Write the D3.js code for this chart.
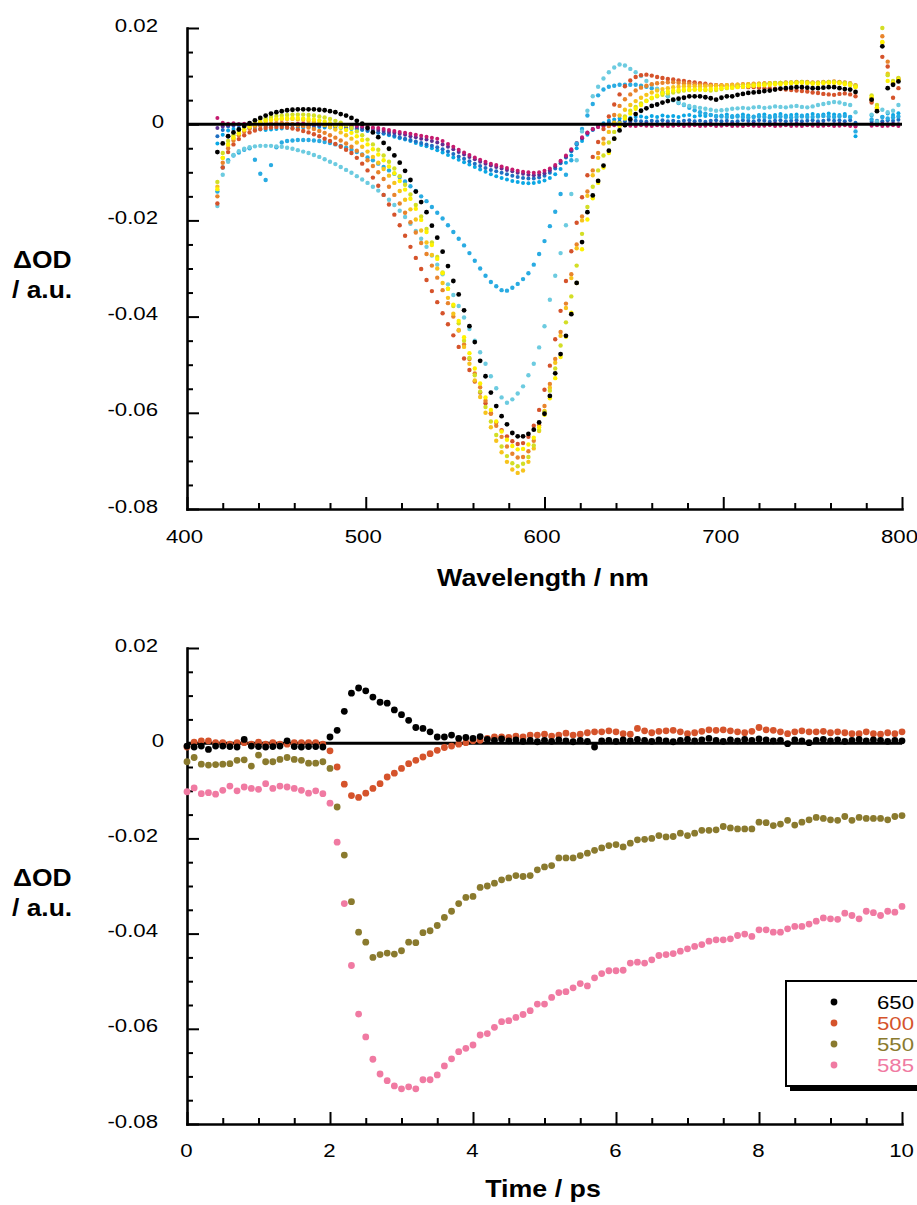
<!DOCTYPE html>
<html><head><meta charset="utf-8">
<script src="https://cdn.jsdelivr.net/npm/d3@7"></script>
<style>body{margin:0;background:#fff}svg{display:block;background:#fff}</style>
</head><body><svg id="chart" width="917" height="1205"></svg>
<script>
// ---------- Top panel: transient spectra (values in mOD, i.e. ΔOD x 1000) ----------
const wavelengths = [
417,420,423,426,429,432,435,438,441,444,
447,450,453,456,459,462,465,468,471,474,
477,480,483,486,489,492,495,498,501,504,
507,510,513,516,519,522,525,528,531,534,
537,540,543,546,549,552,555,558,561,564,
567,570,573,576,579,582,585,588,591,594,
597,600,603,606,609,612,615,618,621,624,
627,630,633,636,639,642,645,648,651,654,
657,660,663,666,669,672,675,678,681,684,
687,690,693,696,699,702,705,708,711,714,
717,720,723,726,729,732,735,738,741,744,
747,750,753,756,759,762,765,768,771,774,
783,786,789,792,795,798];

const specE4 = [
-4.0,-2.2,-1.3,-1.0,-0.9,-0.8,-0.9,-1.0,-1.1,-1.2,
-1.1,-1.0,-0.9,-0.8,-0.8,-0.7,-0.7,-0.6,-0.7,-0.6,
-0.7,-0.7,-0.8,-0.8,-0.9,-1.0,-1.1,-1.2,-1.4,-1.6,
-1.8,-2.0,-2.3,-2.6,-2.9,-3.2,-3.5,-3.9,-4.3,-4.6,
-5.0,-5.4,-5.9,-6.4,-6.9,-7.4,-7.9,-8.4,-8.9,-9.4,
-9.9,-10.4,-10.8,-11.2,-11.5,-11.8,-12.0,-12.2,-12.3,-12.2,
-12.0,-11.7,-11.2,-10.4,-9.3,-8.0,-6.5,-5.0,-3.5,-2.2,
-1.2,-0.4,0.2,0.7,1.0,1.2,1.4,1.3,1.5,1.6,
1.4,1.7,1.5,1.8,1.6,1.7,1.5,1.8,1.9,1.6,
1.8,1.7,1.9,1.6,1.8,2.0,1.7,1.8,2.0,1.8,
1.6,1.9,2.0,1.7,1.9,2.1,1.8,1.9,2.0,1.8,
1.9,2.1,1.9,2.0,2.2,2.0,1.9,2.1,1.5,-2.5,
1.8,0.5,1.5,2.2,1.9,2.3];

const specE3 = [
-2.5,-1.2,-0.5,-0.3,-0.2,-0.4,-0.3,-0.2,-0.3,-0.4,
-0.2,-0.3,-0.4,-0.3,-0.2,-0.3,-0.4,-0.3,-0.3,-0.4,
-0.4,-0.5,-0.5,-0.6,-0.7,-0.8,-0.9,-1.1,-1.3,-1.5,
-1.7,-1.9,-2.1,-2.4,-2.7,-3.0,-3.3,-3.6,-3.9,-4.2,
-4.5,-4.8,-5.2,-5.7,-6.2,-6.7,-7.2,-7.7,-8.2,-8.7,
-9.1,-9.5,-9.8,-10.1,-10.4,-10.7,-11.0,-11.2,-11.3,-11.3,
-11.1,-10.7,-10.1,-9.2,-8.1,-6.9,-5.6,-4.2,-2.9,-1.8,
-1.0,-0.4,0.0,0.3,0.4,0.5,0.6,0.5,0.7,0.6,
0.5,0.7,0.6,0.8,0.6,0.7,0.5,0.7,0.8,0.6,
0.7,0.5,0.7,0.8,0.6,0.7,0.5,0.6,0.8,0.7,
0.6,0.8,0.7,0.5,0.7,0.8,0.6,0.7,0.8,0.6,
0.7,0.8,0.6,0.7,0.9,0.7,0.8,0.6,0.8,0.3,
0.5,0.7,0.6,0.8,0.7,0.9];

const specE2 = [
-0.8,-0.5,-0.2,-0.1,0.0,-0.2,-0.1,0.0,-0.1,-0.2,
-0.1,0.0,-0.1,-0.2,-0.1,0.0,-0.1,-0.2,-0.1,-0.1,
-0.2,-0.2,-0.3,-0.3,-0.4,-0.5,-0.6,-0.7,-0.9,-1.0,
-1.2,-1.4,-1.6,-1.8,-2.0,-2.2,-2.5,-2.7,-3.0,-3.2,
-3.5,-3.8,-4.2,-4.7,-5.2,-5.8,-6.3,-6.8,-7.3,-7.8,
-8.2,-8.6,-8.9,-9.2,-9.5,-9.8,-10.1,-10.3,-10.5,-10.6,
-10.5,-10.2,-9.6,-8.8,-7.8,-6.7,-5.4,-4.1,-2.9,-1.9,
-1.1,-0.6,-0.3,-0.1,0.0,-0.1,0.0,0.1,-0.1,0.0,
0.1,0.0,-0.1,0.0,0.1,0.0,-0.1,0.0,0.1,0.0,
-0.1,0.0,0.1,0.0,-0.1,0.0,0.1,0.0,-0.1,0.0,
0.1,0.0,-0.1,0.0,0.1,0.0,-0.1,0.0,0.1,0.0,
-0.1,0.0,0.1,0.0,-0.1,0.0,0.1,0.0,-0.1,-0.3,
0.0,-0.1,0.1,0.0,0.1,0.0];

const specE1 = [
1.3,0.3,0.1,0.2,0.0,0.1,0.2,0.0,0.1,0.2,
0.0,0.1,0.2,0.1,0.0,0.1,0.2,0.0,0.1,0.0,
0.1,0.0,-0.1,0.0,-0.2,-0.2,-0.3,-0.4,-0.5,-0.7,
-0.8,-1.0,-1.2,-1.4,-1.6,-1.8,-2.0,-2.2,-2.4,-2.6,
-2.8,-3.0,-3.5,-4.1,-4.7,-5.3,-5.9,-6.4,-6.9,-7.4,
-7.8,-8.2,-8.5,-8.8,-9.1,-9.4,-9.7,-9.9,-10.0,-10.1,
-10.0,-9.7,-9.2,-8.5,-7.6,-6.5,-5.2,-3.9,-2.7,-1.7,
-1.0,-0.6,-0.4,-0.3,-0.2,-0.3,-0.2,-0.3,-0.4,-0.2,
-0.3,-0.4,-0.2,-0.3,-0.4,-0.3,-0.2,-0.4,-0.3,-0.2,
-0.4,-0.3,-0.2,-0.4,-0.3,-0.2,-0.4,-0.3,-0.4,-0.2,
-0.3,-0.4,-0.3,-0.2,-0.4,-0.3,-0.2,-0.4,-0.3,-0.4,
-0.2,-0.3,-0.4,-0.3,-0.2,-0.4,-0.3,-0.2,-0.4,-0.5,
-0.3,-0.2,-0.4,-0.3,-0.2,-0.4];

const specM1 = [
-14.0,-9.0,-7.5,-6.5,-5.9,-5.3,-5.0,-7.4,-10.3,-11.6,
-8.5,-4.8,-3.8,-3.5,-3.4,-3.3,-3.3,-3.3,-3.4,-3.5,
-3.7,-3.9,-4.2,-4.5,-4.9,-5.3,-5.8,-6.3,-6.9,-7.5,
-8.2,-8.9,-9.6,-10.3,-11.0,-11.9,-12.9,-13.9,-15.0,-16.0,
-17.2,-18.4,-19.6,-21.0,-22.4,-23.8,-25.2,-26.8,-28.4,-30.0,
-31.5,-32.8,-33.7,-34.5,-34.6,-34.0,-33.2,-32.2,-31.0,-29.2,
-27.0,-24.3,-21.2,-18.2,-14.5,-10.5,-7.5,-4.0,-1.0,1.8,
4.2,6.0,7.2,7.8,8.0,8.2,8.2,8.2,8.2,8.0,
7.8,7.5,7.2,6.6,5.8,5.0,4.4,4.0,3.4,2.9,
2.5,2.2,1.9,1.7,1.6,1.5,1.5,1.6,1.5,1.4,
1.5,1.6,1.5,1.4,1.5,1.6,1.5,1.4,1.5,1.6,
1.5,1.5,1.6,1.7,1.6,1.5,1.6,1.7,1.5,-1.5,
1.0,0.5,1.5,1.2,1.4,1.6];

const specL1 = [
-17.0,-10.5,-7.8,-6.4,-5.6,-5.1,-4.8,-4.6,-4.5,-4.5,
-4.5,-4.6,-4.7,-4.9,-5.1,-5.4,-5.7,-6.0,-6.4,-6.8,
-7.3,-7.8,-8.3,-8.9,-9.5,-10.1,-10.8,-11.5,-12.2,-13.0,
-13.8,-14.7,-15.7,-16.8,-18.0,-19.3,-20.7,-22.2,-23.8,-25.5,
-27.3,-29.2,-31.2,-33.3,-35.5,-37.8,-40.2,-42.6,-45.0,-47.4,
-49.8,-52.4,-54.9,-56.8,-57.9,-57.2,-56.0,-54.5,-52.2,-49.8,
-46.4,-42.0,-36.5,-31.5,-26.8,-21.0,-14.5,-7.5,-1.5,2.8,
5.8,7.8,9.5,10.8,11.8,12.4,12.2,11.5,10.8,10.0,
9.0,8.2,7.4,6.6,5.8,5.0,4.5,4.1,3.8,3.6,
3.4,3.2,3.0,2.8,2.9,3.0,3.2,3.3,3.4,3.3,
3.5,3.6,3.4,3.5,3.7,3.6,3.5,3.7,3.8,3.6,
3.5,3.7,4.0,4.2,4.4,4.6,4.5,4.2,4.0,2.5,
2.0,0.5,3.0,2.5,2.8,4.0];

const specR = [
-16.5,-9.0,-5.8,-4.2,-3.1,-2.3,-1.7,-1.3,-1.0,-0.8,
-0.7,-0.6,-0.6,-0.7,-0.9,-1.1,-1.4,-1.7,-2.1,-2.5,
-3.0,-3.5,-4.1,-4.7,-5.3,-6.0,-7.0,-8.2,-9.6,-11.1,
-12.8,-14.7,-16.7,-18.8,-21.0,-23.2,-25.5,-27.8,-30.1,-32.4,
-34.7,-37.0,-39.3,-41.6,-43.9,-46.3,-48.7,-51.1,-53.5,-55.8,
-58.0,-60.1,-62.0,-63.6,-64.9,-65.9,-66.5,-66.3,-65.0,-62.7,
-59.4,-55.2,-50.2,-44.7,-38.8,-32.6,-26.4,-20.5,-15.2,-10.6,
-6.8,-3.7,-1.0,1.6,4.1,6.2,7.9,9.1,9.8,10.2,
10.3,10.1,9.8,9.6,9.4,9.3,9.1,9.0,8.8,8.7,
8.5,8.4,8.2,8.1,8.0,7.9,7.9,7.8,7.8,7.7,
7.7,7.6,7.5,7.5,7.4,7.3,7.2,7.1,7.0,6.9,
6.8,6.6,6.5,6.3,6.2,6.1,6.3,6.4,6.2,5.8,
4.5,3.0,14.0,12.0,5.5,7.5];

const specO = [
-15.0,-8.0,-5.0,-3.4,-2.3,-1.5,-0.9,-0.5,-0.2,0.0,
0.1,0.2,0.2,0.1,0.0,-0.2,-0.4,-0.7,-1.0,-1.4,
-1.8,-2.3,-2.8,-3.4,-4.0,-4.7,-5.5,-6.4,-7.5,-8.7,
-10.0,-11.4,-13.0,-14.7,-16.5,-18.4,-20.4,-22.5,-24.7,-27.0,
-29.4,-31.9,-34.5,-37.2,-40.0,-42.9,-45.8,-48.8,-51.8,-54.7,
-57.5,-60.2,-62.7,-65.0,-67.0,-68.5,-69.3,-69.2,-68.0,-65.8,
-62.6,-58.6,-54.0,-48.8,-43.2,-37.3,-31.2,-25.0,-19.2,-14.0,
-9.6,-6.0,-3.0,-0.4,1.9,3.8,5.2,6.2,7.0,7.6,
8.0,8.3,8.5,8.6,8.7,8.7,8.6,8.5,8.4,8.3,
8.2,8.2,8.1,8.1,8.1,8.1,8.2,8.2,8.3,8.3,
8.4,8.4,8.5,8.5,8.6,8.6,8.7,8.7,8.8,8.8,
8.8,8.7,8.7,8.8,8.8,8.9,8.8,8.7,8.5,8.1,
5.0,3.2,18.3,13.0,8.5,9.5];

const specG = [
-13.0,-7.0,-4.3,-2.9,-1.9,-1.1,-0.5,0.0,0.4,0.7,
0.9,1.0,1.1,1.1,1.1,1.0,0.9,0.7,0.5,0.2,
-0.2,-0.6,-1.1,-1.7,-2.3,-3.0,-3.8,-4.7,-5.7,-6.8,
-8.0,-9.3,-10.7,-12.2,-13.9,-15.7,-17.7,-19.8,-22.1,-24.6,
-27.2,-30.0,-33.0,-36.1,-39.4,-42.8,-46.3,-49.8,-53.3,-56.7,
-60.0,-63.0,-65.8,-68.2,-70.2,-71.8,-72.5,-72.0,-70.2,-67.4,
-63.8,-59.6,-54.8,-49.6,-44.0,-38.2,-32.0,-25.8,-20.0,-14.9,
-10.6,-7.0,-4.0,-1.6,0.3,1.8,3.0,4.0,4.8,5.5,
6.1,6.6,7.0,7.3,7.5,7.7,7.8,7.9,7.9,7.9,
7.9,7.9,7.9,8.0,8.0,8.1,8.1,8.2,8.2,8.3,
8.3,8.4,8.4,8.5,8.5,8.6,8.6,8.6,8.7,8.7,
8.6,8.6,8.6,8.7,8.7,8.7,8.6,8.5,8.3,7.9,
5.4,3.5,17.0,10.5,8.8,9.3];

const specYG = [
-12.0,-6.0,-3.5,-2.3,-1.4,-0.6,0.0,0.5,0.9,1.2,
1.5,1.7,1.8,1.9,2.0,2.0,2.0,1.9,1.8,1.6,
1.4,1.1,0.7,0.3,-0.2,-0.8,-1.5,-2.3,-3.2,-4.2,
-5.3,-6.5,-7.8,-9.2,-10.8,-12.6,-14.6,-16.8,-19.2,-21.8,
-24.6,-27.6,-30.8,-34.2,-37.8,-41.4,-45.0,-48.6,-52.2,-55.6,
-58.8,-61.8,-64.6,-67.0,-69.0,-70.5,-71.1,-70.6,-69.2,-66.8,
-63.6,-59.8,-55.4,-50.8,-46.0,-41.2,-35.8,-29.4,-22.8,-17.2,
-13.0,-9.6,-6.5,-3.8,-1.6,0.2,1.6,2.8,3.6,4.3,
4.9,5.4,5.8,6.1,6.4,6.6,6.8,7.0,7.1,7.2,
7.2,7.1,7.0,7.1,7.3,7.5,7.6,7.8,7.9,8.0,
8.1,8.2,8.3,8.4,8.5,8.6,8.6,8.7,8.7,8.8,
8.7,8.6,8.6,8.7,8.8,8.8,8.7,8.6,8.4,8.0,
6.0,4.0,20.0,10.2,9.0,9.6];

const specY = [
-13.5,-7.0,-4.2,-2.8,-1.9,-1.1,-0.5,0.0,0.4,0.7,
0.9,1.1,1.2,1.2,1.3,1.3,1.2,1.1,1.0,0.8,
0.5,0.2,-0.2,-0.7,-1.2,-1.8,-2.5,-3.3,-4.2,-5.2,
-6.3,-7.5,-8.8,-10.2,-11.8,-13.6,-15.5,-17.6,-19.9,-22.4,
-25.1,-28.0,-31.0,-34.2,-37.5,-40.9,-44.3,-47.6,-50.8,-53.9,
-56.8,-59.4,-61.8,-63.9,-65.6,-66.9,-67.6,-67.5,-66.6,-65.2,
-63.0,-60.4,-57.0,-52.8,-48.4,-44.2,-39.2,-33.0,-26.0,-19.8,
-15.4,-12.2,-9.0,-6.0,-3.0,-0.4,1.2,2.2,3.2,4.0,
4.8,5.5,6.0,6.5,6.8,7.0,7.1,7.2,7.2,7.2,
7.2,7.2,7.3,7.4,7.5,7.6,7.6,7.7,7.8,7.9,
8.0,8.1,8.1,8.2,8.3,8.3,8.4,8.5,8.5,8.6,
8.5,8.4,8.4,8.5,8.6,8.6,8.5,8.3,8.1,7.7,
5.6,3.4,17.1,9.0,8.6,9.2];

const specK = [
-5.8,-4.0,-2.5,-1.7,-1.1,-0.4,0.2,0.8,1.3,1.8,
2.2,2.5,2.7,2.9,3.0,3.1,3.1,3.1,3.1,3.0,
2.9,2.7,2.5,2.1,1.8,1.3,0.7,0.1,-0.8,-1.7,
-2.7,-3.9,-5.1,-6.5,-8.0,-9.7,-11.6,-14.0,-16.2,-18.3,
-21.1,-23.6,-26.5,-29.5,-32.6,-35.4,-38.7,-42.0,-45.3,-49.2,
-52.4,-55.8,-58.6,-60.7,-62.4,-64.2,-64.9,-64.9,-64.4,-63.5,
-62.0,-60.2,-56.5,-51.8,-47.8,-44.0,-39.5,-33.0,-24.5,-18.3,
-14.8,-11.8,-8.6,-5.5,-3.0,-1.3,-0.2,1.0,2.1,2.8,
3.3,3.8,4.1,4.5,4.8,5.1,5.3,5.5,5.8,5.8,
5.8,5.6,5.4,5.1,5.5,5.8,5.8,6.1,6.3,6.5,
6.6,6.7,6.9,7.0,7.2,7.4,7.5,7.6,7.7,7.7,
7.6,7.5,7.5,7.6,7.7,7.7,7.5,7.3,7.2,6.7,
5.1,2.7,16.2,7.5,8.2,8.9];

// ---------- Bottom panel: kinetic traces (mOD) ----------
const timePs = [
0,0.1,0.2,0.3,0.4,0.5,0.6,0.7,0.8,0.9,
1,1.1,1.2,1.3,1.4,1.5,1.6,1.7,1.8,1.9,
2,2.1,2.2,2.3,2.4,2.5,2.6,2.7,2.8,2.9,
3,3.1,3.2,3.3,3.4,3.5,3.6,3.7,3.8,3.9,
4,4.1,4.2,4.3,4.4,4.5,4.6,4.7,4.8,4.9,
5,5.1,5.2,5.3,5.4,5.5,5.6,5.7,5.8,5.9,
6,6.1,6.2,6.3,6.4,6.5,6.6,6.7,6.8,6.9,
7,7.1,7.2,7.3,7.4,7.5,7.6,7.7,7.8,7.9,
8,8.1,8.2,8.3,8.4,8.5,8.6,8.7,8.8,8.9,
9,9.1,9.2,9.3,9.4,9.5,9.6,9.7,9.8,9.9,
10];

const kin650 = [
-0.6,-0.8,-0.6,-1.3,-0.6,-0.6,-0.7,-0.8,0.8,-0.6,
-0.7,-0.8,-0.7,-0.6,0.5,-0.7,-0.8,-0.7,-0.7,-0.8,
1.3,2.7,6.7,10.5,11.6,11.0,9.7,8.6,8.4,7.0,
6.0,4.8,3.3,3.1,2.4,1.3,1.3,1.7,1.0,1.2,
1.0,1.4,0.8,0.6,0.9,0.5,0.7,0.4,0.6,0.3,
0.6,0.4,0.7,0.5,0.3,0.6,0.4,-0.8,0.5,0.6,
0.4,0.7,0.5,0.8,0.6,0.4,0.7,0.5,0.3,0.6,
0.8,0.5,0.7,1.0,0.6,0.4,0.7,0.5,0.8,0.6,
0.9,0.7,0.5,0.6,-0.1,0.7,0.5,0.1,0.6,0.8,
0.5,0.7,0.4,0.6,0.8,0.5,0.7,0.6,0.4,0.6,
0.5];

const kin500 = [
-0.8,0.2,0.5,0.5,0.1,0.1,-0.2,0.1,0.1,-0.2,
0.2,-0.2,0.1,-0.2,-0.2,0.1,0.1,0.1,0.1,-0.2,
-1.6,-5.0,-8.6,-11.0,-11.4,-10.5,-9.5,-8.5,-7.1,-6.3,
-5.3,-4.3,-3.6,-2.9,-2.2,-1.5,-0.9,-0.6,-0.2,0.1,
0.5,0.6,1.0,1.3,1.3,1.2,1.5,1.3,1.7,1.7,
1.9,1.5,1.7,2.1,1.7,1.9,2.2,2.4,2.4,2.6,
2.4,2.0,1.9,3.1,2.6,2.2,2.5,2.6,2.7,2.4,
2.0,2.2,2.5,2.8,2.7,2.8,2.6,2.4,2.2,2.5,
3.3,2.8,2.7,2.4,2.0,2.4,2.6,2.4,2.4,2.5,
2.2,2.4,2.2,2.0,2.0,2.4,2.0,1.9,2.2,2.0,
2.4];

const kin550 = [
-3.9,-3.0,-4.4,-4.6,-4.5,-4.4,-4.3,-3.6,-3.5,-4.8,
-2.5,-3.9,-3.9,-3.4,-3.0,-3.4,-3.6,-4.2,-4.2,-3.9,
-5.3,-13.4,-23.5,-33.3,-39.7,-41.8,-45.0,-44.4,-44.1,-44.3,
-43.6,-41.8,-41.9,-39.8,-39.4,-38.3,-36.6,-35.3,-33.7,-32.4,
-32.2,-30.3,-30.0,-29.4,-28.7,-28.3,-27.8,-28.0,-27.8,-26.6,
-26.0,-25.7,-24.1,-24.1,-24.1,-23.6,-23.1,-22.5,-22.0,-21.5,
-21.3,-21.8,-21.0,-20.3,-20.2,-20.0,-19.4,-19.7,-19.6,-18.9,
-19.4,-18.9,-18.3,-18.3,-18.2,-17.5,-17.8,-18.0,-18.0,-18.0,
-16.6,-16.7,-17.3,-17.0,-16.2,-17.2,-16.6,-16.1,-15.6,-15.8,
-16.1,-16.2,-15.4,-16.2,-15.6,-15.8,-15.8,-15.8,-16.1,-15.4,
-15.2];

const kin585 = [
-10.2,-9.4,-10.6,-10.4,-10.7,-9.9,-9.0,-10.0,-9.2,-9.5,
-9.7,-8.5,-9.5,-9.0,-9.2,-9.5,-9.9,-10.5,-10.0,-10.6,
-12.6,-20.8,-33.7,-46.7,-56.9,-61.7,-66.4,-69.5,-70.9,-72.0,
-72.6,-72.2,-72.6,-70.7,-70.7,-69.7,-67.8,-66.3,-64.8,-64.1,
-63.4,-61.3,-61.0,-59.7,-58.5,-58.3,-57.6,-57.0,-56.2,-54.8,
-54.8,-53.4,-52.4,-52.2,-51.4,-50.5,-51.0,-49.3,-48.4,-47.8,
-47.8,-47.7,-46.2,-46.0,-46.2,-45.5,-44.6,-44.4,-44.2,-43.7,
-43.2,-42.7,-42.3,-41.6,-41.3,-41.3,-41.1,-40.4,-40.1,-40.6,
-39.2,-39.2,-39.7,-39.7,-39.0,-38.5,-38.5,-38.0,-37.4,-36.7,
-36.9,-37.0,-35.7,-36.2,-36.9,-35.3,-35.6,-36.2,-35.3,-35.5,
-34.3];

const kineticLabels = ["650","500","550","585"];
const yTickValues = [-80,-60,-40,-20,0,20];
const xTickTop = [400,500,600,700,800];
const xTickBottom = [0,2,4,6,8,10];

// ---------- styling ----------
const FONT = '"Liberation Sans", Arial, Helvetica, sans-serif';
const SX = 1.2;
const spectra = [
  {v: specE4, c: "#0aa7e4", r: 2.0},
  {v: specE3, c: "#1e6fc2", r: 2.0},
  {v: specE2, c: "#5f2f92", r: 2.0},
  {v: specE1, c: "#c51a6e", r: 2.0},
  {v: specM1, c: "#29abe2", r: 2.2},
  {v: specL1, c: "#6ccbe0", r: 2.2},
  {v: specR,  c: "#d5532b", r: 2.2},
  {v: specO,  c: "#e8842c", r: 2.2},
  {v: specG,  c: "#f7c31c", r: 2.2},
  {v: specYG, c: "#d3de25", r: 2.2},
  {v: specY,  c: "#fff200", r: 2.2},
  {v: specK,  c: "#000000", r: 2.4}
];
const kinetics = [
  {v: kin550, c: "#8a7a2e"},
  {v: kin585, c: "#f07aa2"},
  {v: kin500, c: "#d5532b"},
  {v: kin650, c: "#000000"}
];
const legendColors = ["#000000","#d5532b","#8a7a2e","#f07aa2"];

const svg = d3.select("#chart");
const fmt = v => v === 0 ? "0" : (v / 1000).toFixed(2);

function addText(str, x, y, o) {
  return svg.append("text")
    .attr("transform", `translate(${x},${y}) scale(${o.sx || SX},1)`)
    .attr("font-family", FONT).attr("font-size", o.size)
    .attr("font-weight", o.weight || "normal")
    .attr("text-anchor", o.anchor || "start")
    .attr("fill", o.fill || "#000").text(str);
}

function drawAxes(x, y, xTicks, xMinor, yMinor, xPad, xdx) {
  const x0 = x.range()[0], yb = y.range()[0];
  // minor ticks
  const gym = svg.append("g").attr("transform", `translate(${x0},0)`)
    .call(d3.axisLeft(y).tickValues(yMinor).tickFormat("").tickSize(-6).tickSizeOuter(0));
  gym.select(".domain").remove();
  gym.selectAll(".tick line").attr("stroke-width", 2);
  const gxm = svg.append("g").attr("transform", `translate(0,${yb})`)
    .call(d3.axisBottom(x).tickValues(xMinor).tickFormat("").tickSize(-6).tickSizeOuter(0));
  gxm.select(".domain").remove();
  gxm.selectAll(".tick line").attr("stroke-width", 2);
  // major
  const gy = svg.append("g").attr("transform", `translate(${x0},0)`)
    .call(d3.axisLeft(y).tickValues(yTickValues).tickFormat(fmt).tickSize(-12).tickSizeOuter(0).tickPadding(29));
  gy.attr("font-size", 18.5).attr("font-family", FONT);
  gy.select(".domain").attr("stroke-width", 2.6).attr("stroke-linecap", "square");
  gy.selectAll(".tick line").attr("stroke-width", 2);
  gy.selectAll(".tick text").each(function(d) {
    const xx = -29 + (d === 0 ? 6 : 0);
    d3.select(this).attr("x", xx / SX).attr("dy", "0.17em").attr("transform", `scale(${SX},1)`);
  });
  const gx = svg.append("g").attr("transform", `translate(0,${yb})`)
    .call(d3.axisBottom(x).tickValues(xTicks).tickSize(-12).tickSizeOuter(0).tickPadding(xPad));
  gx.attr("font-size", 18.5).attr("font-family", FONT);
  gx.select(".domain").attr("stroke-width", 2.6).attr("stroke-linecap", "square");
  gx.selectAll(".tick line").attr("stroke-width", 2);
  gx.selectAll(".tick text").attr("x", xdx / SX).attr("transform", `scale(${SX},1)`);
}

// ---------- top panel ----------
const xW = d3.scaleLinear().domain([400, 800]).range([187, 902]);
const yT = d3.scaleLinear().domain([-80, 20]).range([509, 28]);
drawAxes(xW, yT, xTickTop,
  d3.range(400, 801, 20).filter(v => v % 100 !== 0),
  d3.range(-80, 21, 5).filter(v => v % 20 !== 0), 21, -3);

const gTop = svg.append("g");
spectra.forEach(s => {
  gTop.append("g").selectAll("circle")
    .data(wavelengths.map((w, i) => [w, s.v[i]]))
    .join("circle")
    .attr("cx", d => xW(d[0])).attr("cy", d => yT(d[1]))
    .attr("r", s.r).attr("fill", s.c);
});
svg.append("line").attr("x1", xW(400)).attr("x2", xW(800))
  .attr("y1", yT(0)).attr("y2", yT(0)).attr("stroke", "#000").attr("stroke-width", 3);

addText("Wavelength / nm", 543, 586, {size: 23, weight: "bold", anchor: "middle", sx: 1.165});
addText("ΔOD", 13, 268, {size: 24, weight: "bold", sx: 1.1});
addText("/ a.u.", 12, 298, {size: 24, weight: "bold", sx: 1.1});

// ---------- bottom panel ----------
const xT = d3.scaleLinear().domain([0, 10]).range([187, 902]);
const yB = d3.scaleLinear().domain([-80, 20]).range([1124, 648]);
drawAxes(xT, yB, xTickBottom,
  d3.range(0, 10.01, 0.5).filter(v => v % 2 !== 0),
  d3.range(-80, 21, 5).filter(v => v % 20 !== 0), 20, -1);

svg.append("line").attr("x1", xT(0)).attr("x2", xT(10))
  .attr("y1", yB(0)).attr("y2", yB(0)).attr("stroke", "#000").attr("stroke-width", 3);
kinetics.forEach(s => {
  svg.append("g").selectAll("circle")
    .data(timePs.map((t, i) => [t, s.v[i]]))
    .join("circle")
    .attr("cx", d => xT(d[0])).attr("cy", d => yB(d[1]))
    .attr("r", 3.4).attr("fill", s.c);
});

addText("Time / ps", 543, 1197, {size: 23, weight: "bold", anchor: "middle", sx: 1.165});
addText("ΔOD", 13, 886, {size: 24, weight: "bold", sx: 1.1});
addText("/ a.u.", 12, 916, {size: 24, weight: "bold", sx: 1.1});

// legend
svg.append("rect").attr("x", 790).attr("y", 986).attr("width", 200).attr("height", 105).attr("fill", "#000");
svg.append("rect").attr("x", 786).attr("y", 981).attr("width", 200).attr("height", 105)
  .attr("fill", "#fff").attr("stroke", "#000").attr("stroke-width", 2);
const legendY = d3.scalePoint().domain(kineticLabels).range([1002, 1065]);
kineticLabels.forEach((lab, i) => {
  svg.append("circle").attr("cx", 834).attr("cy", legendY(lab)).attr("r", 3.4).attr("fill", legendColors[i]);
  addText(lab, 877, legendY(lab) + 6.6, {size: 18.5, fill: legendColors[i]});
});
</script></body></html>
